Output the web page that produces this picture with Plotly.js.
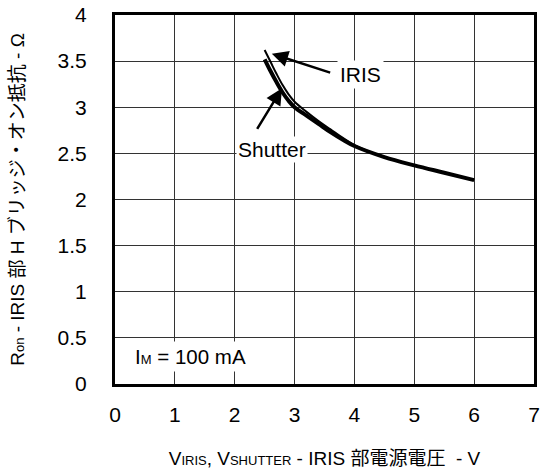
<!DOCTYPE html>
<html>
<head>
<meta charset="utf-8">
<script src="https://cdn.plot.ly/plotly-3.0.1.min.js"></script>
<style>html,body{margin:0;padding:0;background:#fff;}#chart{width:546px;height:475px;}</style>
</head>
<body>
<div id="chart"></div>
<script>
// Data
const irisV = [2.5, 2.6, 2.7, 2.8, 2.9, 3.0, 3.2, 3.4, 3.6, 3.8, 4.0, 4.5, 5.0, 5.5, 6.0];
const irisR = [3.62, 3.49, 3.36, 3.24, 3.14, 3.06, 2.95, 2.85, 2.76, 2.67, 2.59, 2.46, 2.37, 2.29, 2.21];
const shutterV = [2.5, 2.6, 2.7, 2.8, 2.9, 3.0, 3.2, 3.4, 3.6, 3.8, 4.0, 4.5, 5.0, 5.5, 6.0];
const shutterR = [3.52, 3.39, 3.27, 3.16, 3.07, 3.0, 2.91, 2.82, 2.73, 2.65, 2.58, 2.46, 2.37, 2.29, 2.21];
const xTicks = [0, 1, 2, 3, 4, 5, 6, 7];
const yTicks = [0, 0.5, 1, 1.5, 2, 2.5, 3, 3.5, 4];
const yTickText = ['0', '0.5', '1', '1.5', '2', '2.5', '3', '3.5', '4'];

const FONT = 'Liberation Sans, Arial, Noto Sans CJK JP, sans-serif';
const SUB = (t) => '<span style="font-size:13px">' + t + '</span>';

const traces = [
  {x: shutterV, y: shutterR, mode: 'lines', name: 'Shutter', line: {color: '#000', width: 4, shape: 'spline'}},
  {x: irisV, y: irisR, mode: 'lines', name: 'IRIS', line: {color: '#000', width: 2, shape: 'spline'}}
];

const layout = {
  width: 546, height: 475,
  margin: {l: 115, r: 12, t: 15, b: 91},
  paper_bgcolor: '#fff', plot_bgcolor: '#fff',
  showlegend: false,
  font: {family: FONT, size: 20, color: '#000'},
  xaxis: {
    range: [0, 7], tickvals: xTicks, ticktext: xTicks.map(String),
    showgrid: true, gridcolor: '#333', gridwidth: 1,
    zeroline: false, showline: true, linecolor: '#000', linewidth: 3, mirror: true,
    ticks: 'outside', ticklen: 10, tickcolor: 'rgba(0,0,0,0)',
    tickfont: {family: FONT, size: 21, color: '#000'},
    title: {text: 'V' + SUB('IRIS') + ', V' + SUB('SHUTTER') + ' - IRIS 部電源電圧\u00A0 - V\u00A0\u00A0\u00A0',
            font: {family: FONT, size: 19, color: '#000'}, standoff: 27}
  },
  yaxis: {
    range: [0, 4], tickvals: yTicks, ticktext: yTickText,
    showgrid: true, gridcolor: '#333', gridwidth: 1,
    zeroline: false, showline: true, linecolor: '#000', linewidth: 3, mirror: true,
    ticks: 'outside', ticklen: 21, tickcolor: 'rgba(0,0,0,0)',
    tickfont: {family: FONT, size: 21, color: '#000'},
    title: {text: 'R' + SUB('on') + ' - IRIS 部 H ブリッジ・オン抵抗 - Ω',
            font: {family: FONT, size: 19, color: '#000'}, standoff: 28}
  },
  annotations: [
    {x: 2.62, y: 3.58, xref: 'x', yref: 'y', ax: 3.62, ay: 3.37, axref: 'x', ayref: 'y',
     text: '', showarrow: true, arrowhead: 2, arrowsize: 1.3, arrowwidth: 2.5, arrowcolor: '#000'},
    {x: 2.79, y: 3.205, xref: 'x', yref: 'y', ax: 2.36, ay: 2.75, axref: 'x', ayref: 'y',
     text: '', showarrow: true, arrowhead: 2, arrowsize: 1.3, arrowwidth: 2.5, arrowcolor: '#000'},
    {x: 4.10, y: 3.36, xref: 'x', yref: 'y', text: 'IRIS', showarrow: false,
     bgcolor: '#fff', borderpad: 2, font: {family: FONT, size: 21, color: '#000'}},
    {x: 2.63, y: 2.54, xref: 'x', yref: 'y', text: 'Shutter', showarrow: false,
     bgcolor: '#fff', borderpad: 1, font: {family: FONT, size: 21, color: '#000'}},
    {x: 1.26, y: 0.30, xref: 'x', yref: 'y', text: 'I' + SUB('M') + ' = 100 mA', showarrow: false,
     bgcolor: '#fff', borderpad: 3, font: {family: FONT, size: 20.5, color: '#000'}}
  ]
};

Plotly.newPlot('chart', traces, layout, {staticPlot: true, displayModeBar: false});
</script>
</body>
</html>
